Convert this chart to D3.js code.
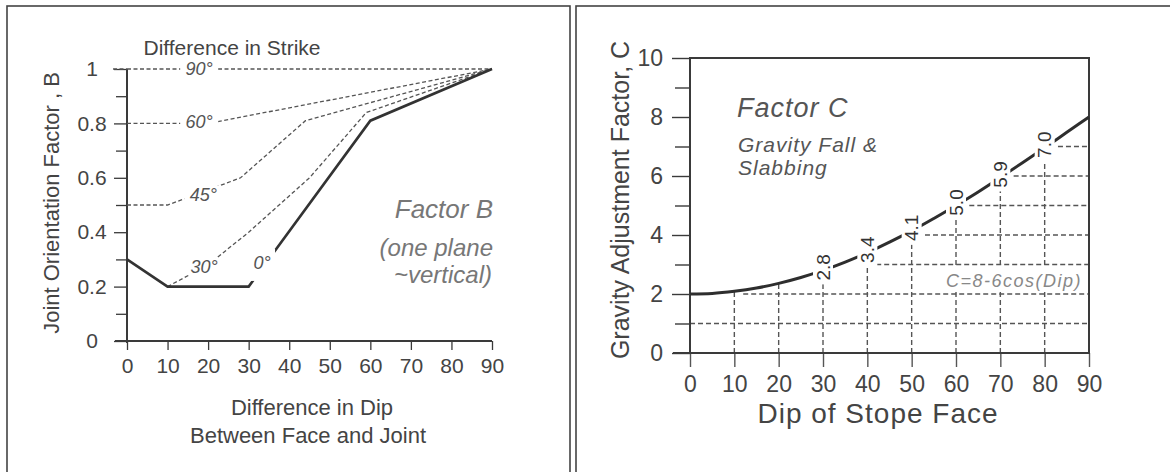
<!DOCTYPE html>
<html>
<head>
<meta charset="utf-8">
<script src="https://cdn.jsdelivr.net/npm/d3@7"></script>
<style>
  body { margin: 0; background: #fff; }
  svg { font-family: "Liberation Sans", Arial, sans-serif; }
</style>
</head>
<body>
<svg id="canvas" width="1170" height="472"></svg>
<script>
// Factor B curves, one per difference in strike: [dip difference, B]
const strike90 = [[0, 1], [90, 1]];
const strike60 = [[0, 0.8], [20, 0.8], [90, 1]];
const strike45 = [[0, 0.5], [10, 0.5], [20, 0.555], [28, 0.6], [44, 0.81], [90, 1]];
const strike30 = [[10, 0.2], [20, 0.28], [30, 0.4], [45, 0.6], [59, 0.84], [90, 1]];
const strike0 = [[0, 0.3], [10, 0.2], [30, 0.2], [60, 0.81], [90, 1]];

const strikeNames = ["90°", "60°", "45°", "30°", "0°"];
const strikeLabelDip = [17.8, 17.8, 18.8, 19, 33.3];
const strikeLabelB = [1, 0.805, 0.537, 0.272, 0.287];

const ticksB = [0, 0.2, 0.4, 0.6, 0.8, 1];
const minorB = [0.1, 0.3, 0.5, 0.7, 0.9];
const ticksDip = [0, 10, 20, 30, 40, 50, 60, 70, 80, 90];

// Factor C curve, read every 5 degrees
const dipC = [0, 5, 10, 15, 20, 25, 30, 35, 40, 45, 50, 55, 60, 65, 70, 75, 80, 85, 90];
const factorC = [2.0, 2.02, 2.09, 2.2, 2.36, 2.56, 2.8, 3.08, 3.4, 3.76, 4.14, 4.56, 5.0, 5.46, 5.95, 6.45, 6.96, 7.48, 8.0];

const cLabels = ["2.8", "3.4", "4.1", "5.0", "5.9", "7.0"];
const cLabelDip = [30, 40, 50, 60, 70, 80];

const gridDip = [10, 20, 30, 40, 50, 60, 70, 80];
const gridLevel = [1, 2, 3, 4, 5, 6, 7];
const gridFrom = [0, 12, 42, 53, 63, 73, 83];

const ticksC = [0, 2, 4, 6, 8, 10];
const minorC = [1, 3, 5, 7, 9];

const svg = d3.select("#canvas");
const ink = "#3a3a3a";

// panel frames
svg.append("rect").attr("x", 7).attr("y", 6).attr("width", 563).attr("height", 480)
  .attr("fill", "none").attr("stroke", "#444").attr("stroke-width", 1.6);
svg.append("rect").attr("x", 576).attr("y", 6).attr("width", 610).attr("height", 480)
  .attr("fill", "none").attr("stroke", "#444").attr("stroke-width", 1.6);

// ---------- left chart: Factor B ----------
const xB = d3.scaleLinear().domain([0, 90]).range([127, 492]);
const yB = d3.scaleLinear().domain([0, 1]).range([341, 69]);
const left = svg.append("g");

const yAxisB = d3.axisLeft(yB).tickValues(ticksB).tickSize(13).tickFormat(d3.format("~g"));
left.append("g").attr("transform", "translate(" + xB(0) + ",0)").call(yAxisB)
  .call(g => g.select(".domain").remove())
  .call(g => g.selectAll("line").attr("stroke", ink).attr("stroke-width", 1.3))
  .call(g => g.selectAll("text").attr("x", -35).attr("text-anchor", "middle")
    .attr("font-size", 21).attr("fill", "#444"));
left.append("g").attr("transform", "translate(" + xB(0) + ",0)")
  .call(d3.axisLeft(yB).tickValues(minorB).tickSize(11).tickFormat(""))
  .call(g => g.select(".domain").remove())
  .call(g => g.selectAll("line").attr("stroke", ink).attr("stroke-width", 1.3));

left.append("line").attr("x1", xB(0)).attr("x2", xB(0)).attr("y1", yB(1)).attr("y2", yB(0) + 2)
  .attr("stroke", ink).attr("stroke-width", 2);

const xAxisB = d3.axisBottom(xB).tickValues(ticksDip).tickSize(9).tickPadding(8);
left.append("g").attr("transform", "translate(0," + yB(0) + ")").call(xAxisB)
  .call(g => g.select(".domain").remove())
  .call(g => g.selectAll("line").attr("stroke", ink).attr("stroke-width", 1.3))
  .call(g => g.selectAll("text").attr("font-size", 21).attr("fill", "#444"));
left.append("line").attr("x1", 115).attr("x2", xB(90)).attr("y1", yB(0)).attr("y2", yB(0))
  .attr("stroke", ink).attr("stroke-width", 2);

const lineB = d3.line().x(d => xB(d[0])).y(d => yB(d[1]));
const dashed = [strike90, strike60, strike45, strike30];
left.selectAll("path.strike").data(dashed).enter().append("path")
  .attr("class", "strike")
  .attr("d", lineB)
  .attr("fill", "none").attr("stroke", "#555").attr("stroke-width", 1.3)
  .attr("stroke-dasharray", "4,2.5");
left.append("line").attr("x1", 113).attr("x2", xB(0)).attr("y1", yB(1)).attr("y2", yB(1))
  .attr("stroke", "#555").attr("stroke-width", 1.3).attr("stroke-dasharray", "4,2.5");
left.append("path").attr("d", lineB(strike0))
  .attr("fill", "none").attr("stroke", "#333").attr("stroke-width", 2.6);

// strike labels sit in a white gap cut out of their line
const strikeLab = left.selectAll("g.strike").data(strikeNames).enter().append("g")
  .attr("class", "strike")
  .attr("transform", (d, i) => "translate(" + xB(strikeLabelDip[i]) + "," + yB(strikeLabelB[i]) + ")");
strikeLab.append("rect")
  .attr("x", (d, i) => i === 4 ? -12 : -19).attr("width", (d, i) => i === 4 ? 25 : 38)
  .attr("y", (d, i) => i === 4 ? -14 : -9).attr("height", (d, i) => i === 4 ? 32 : 17)
  .attr("fill", "#fff");
strikeLab.append("text").attr("y", 6).attr("text-anchor", "middle")
  .attr("font-size", 18).attr("font-style", "italic").attr("fill", "#555")
  .text(d => d);

left.append("text").attr("x", 232).attr("y", 55).attr("text-anchor", "middle")
  .attr("font-size", 21).attr("fill", "#444").text("Difference in Strike");
left.append("text").attr("transform", "translate(59,203) rotate(-90)").attr("text-anchor", "middle")
  .attr("font-size", 22).attr("fill", "#444").text("Joint Orientation Factor , B");
left.append("text").attr("x", 312).attr("y", 415).attr("text-anchor", "middle")
  .attr("font-size", 22).attr("fill", "#444").text("Difference in Dip");
left.append("text").attr("x", 308).attr("y", 443).attr("text-anchor", "middle")
  .attr("font-size", 22).attr("fill", "#444").text("Between Face and Joint");

const noteB = left.append("text").attr("text-anchor", "end").attr("font-style", "italic").attr("fill", "#777");
noteB.append("tspan").attr("x", 493).attr("y", 218).attr("font-size", 26).text("Factor B");
noteB.append("tspan").attr("x", 493).attr("y", 256).attr("font-size", 24).text("(one plane");
noteB.append("tspan").attr("x", 492).attr("y", 283).attr("font-size", 24).text("~vertical)");

// ---------- right chart: Factor C ----------
const xC = d3.scaleLinear().domain([0, 90]).range([690, 1089]);
const yC = d3.scaleLinear().domain([0, 10]).range([353, 58]);
const right = svg.append("g");
const curve = dipC.map((d, i) => [d, factorC[i]]);

// grid below the curve
right.selectAll("line.vgrid").data(gridDip).enter().append("line")
  .attr("class", "vgrid")
  .attr("x1", d => xC(d)).attr("x2", d => xC(d))
  .attr("y1", yC(0)).attr("y2", d => yC(factorC[dipC.indexOf(d)]))
  .attr("stroke", "#555").attr("stroke-width", 1.4).attr("stroke-dasharray", "5,3");
right.selectAll("line.hgrid").data(gridLevel).enter().append("line")
  .attr("class", "hgrid")
  .attr("x1", (d, i) => xC(gridFrom[i])).attr("x2", xC(90))
  .attr("y1", d => yC(d)).attr("y2", d => yC(d))
  .attr("stroke", "#555").attr("stroke-width", 1.4).attr("stroke-dasharray", "5,3");

const yAxisC = d3.axisLeft(yC).tickValues(ticksC).tickSize(18).tickPadding(9);
right.append("g").attr("transform", "translate(" + xC(0) + ",0)").call(yAxisC)
  .call(g => g.select(".domain").remove())
  .call(g => g.selectAll("line").attr("stroke", ink).attr("stroke-width", 1.4))
  .call(g => g.selectAll("text").attr("font-size", 23).attr("fill", "#444"));
right.append("g").attr("transform", "translate(" + xC(0) + ",0)")
  .call(d3.axisLeft(yC).tickValues(minorC).tickSize(15).tickFormat(""))
  .call(g => g.select(".domain").remove())
  .call(g => g.selectAll("line").attr("stroke", ink).attr("stroke-width", 1.4));

const xAxisC = d3.axisBottom(xC).tickValues(ticksDip).tickSize(14).tickPadding(9);
right.append("g").attr("transform", "translate(0," + yC(0) + ")").call(xAxisC)
  .call(g => g.select(".domain").remove())
  .call(g => g.selectAll("line").attr("stroke", "#555").attr("stroke-width", 1.4))
  .call(g => g.selectAll("text").attr("font-size", 23).attr("fill", "#444"));

// frame
right.append("path")
  .attr("d", "M" + xC(0) + "," + yC(0) + "V" + yC(10) + "H" + xC(90) + "V" + yC(0) + "H" + (xC(0) - 17))
  .attr("fill", "none").attr("stroke", ink).attr("stroke-width", 2);

right.append("path").attr("d", d3.line().curve(d3.curveMonotoneX).x(d => xC(d[0])).y(d => yC(d[1]))(curve))
  .attr("fill", "none").attr("stroke", "#2e2e2e").attr("stroke-width", 3);

const cLab = right.selectAll("g.clab").data(cLabels).enter().append("g")
  .attr("class", "clab")
  .attr("transform", (d, i) => "translate(" + xC(cLabelDip[i]) + "," + (yC(factorC[dipC.indexOf(cLabelDip[i])]) - 3) + ")");
cLab.append("rect").attr("x", -10).attr("y", -17).attr("width", 20).attr("height", 34).attr("fill", "#fff");
cLab.append("text").attr("transform", "rotate(-90)").attr("text-anchor", "middle").attr("dy", "0.35em")
  .attr("font-size", 19).attr("fill", "#333").text(d => d);

right.append("rect").attr("x", 936).attr("y", 268).attr("width", 150).attr("height", 22).attr("fill", "#fff");
right.append("text").attr("x", 1082).attr("y", 287).attr("text-anchor", "end")
  .attr("font-size", 18).attr("font-style", "italic").attr("fill", "#888").attr("letter-spacing", 1.5)
  .text("C=8-6cos(Dip)");

right.append("text").attr("x", 737).attr("y", 117).attr("font-size", 27).attr("font-style", "italic")
  .attr("fill", "#555").attr("letter-spacing", 1).text("Factor C");
right.append("text").attr("x", 738).attr("y", 152).attr("font-size", 21).attr("font-style", "italic")
  .attr("fill", "#555").attr("letter-spacing", 1).text("Gravity Fall &");
right.append("text").attr("x", 738).attr("y", 175).attr("font-size", 21).attr("font-style", "italic")
  .attr("fill", "#555").attr("letter-spacing", 1).text("Slabbing");

right.append("text").attr("x", 878).attr("y", 423).attr("text-anchor", "middle")
  .attr("font-size", 28).attr("fill", "#444").attr("letter-spacing", 1).text("Dip of Stope Face");
right.append("text").attr("transform", "translate(629,200) rotate(-90)").attr("text-anchor", "middle")
  .attr("font-size", 25).attr("fill", "#444").text("Gravity Adjustment Factor, C");
</script>
</body>
</html>
